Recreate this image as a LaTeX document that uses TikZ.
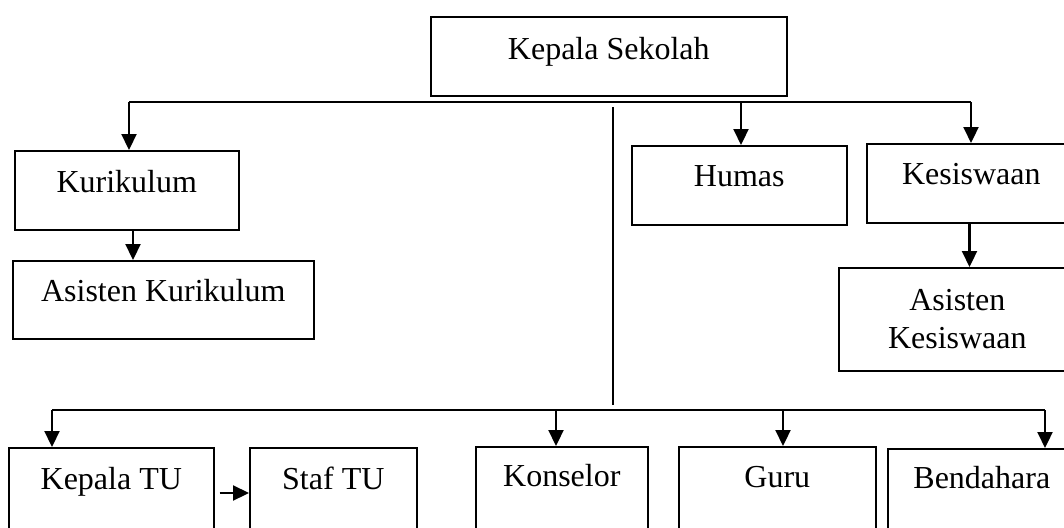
\documentclass[tikz,border=0pt]{standalone}
\usepackage{fontspec}
\setmainfont{Liberation Serif}
\usetikzlibrary{arrows.meta}
\tikzset{
  box/.style={draw, line width=1.6pt, inner sep=0pt, anchor=north west,
    font=\fontsize{32}{38}\selectfont},
  arr/.style={-{Triangle[length=16pt,width=15pt]}, line width=2.2pt},
  bar/.style={line width=1.8pt},
  thinbar/.style={line width=1.2pt},
  lowbar/.style={line width=1.5pt},
}
\begin{document}
\begin{tikzpicture}[x=1pt,y=-1pt]
\useasboundingbox (0,0) rectangle (1064,527);
\clip (0,0) rectangle (1064,527);
% boxes
\node[box, minimum width=356pt, text height=43pt, text depth=36pt] (ks) at (430,16) {Kepala Sekolah};
\node[box, minimum width=224pt, text height=42pt, text depth=37pt] (kur) at (14,150) {Kurikulum};
\node[box, minimum width=301pt, text height=41pt, text depth=37pt] (akur) at (12,260) {Asisten Kurikulum};
\node[box, minimum width=215pt, text height=41pt, text depth=38pt] (humas) at (631,145) {Humas};
\node[box, minimum width=209pt, text height=41pt, text depth=38pt] (kes) at (866,143) {Kesiswaan};
\node[box, minimum width=237pt, minimum height=103pt, align=center] (akes) at (838,267) {Asisten\\Kesiswaan};
\node[box, minimum width=205pt, text height=42pt, text depth=71pt] (ktu) at (8,447) {Kepala TU};
\node[box, minimum width=167pt, text height=42pt, text depth=71pt] (staf) at (249,447) {Staf TU};
\node[box, minimum width=172pt, text height=40pt, text depth=74pt] (kons) at (475,446) {Konselor};
\node[box, minimum width=197pt, text height=41pt, text depth=73pt] (guru) at (678,446) {Guru};
\node[box, minimum width=188pt, text height=40pt, text depth=72pt] (bend) at (887,448) {Bendahara};
% top bar
\coordinate (tl) at (129,102);
\coordinate (tr) at (971,102);
\coordinate (hu) at (741,102);
\draw[bar] (tl) -- (tr);
\draw[arr] (tl) -- (tl |- kur.north);
\draw[arr] (hu) -- (hu |- humas.north);
\draw[arr] (tr) -- (tr |- kes.north);
\coordinate (kx) at (133,0);
\draw[arr] (kur.south -| kx) -- (akur.north -| kx);
\coordinate (ex) at (969.5,0);
\draw[arr] (kes.south -| ex) -- (akes.north -| ex);
% vertical divider
\coordinate (v1) at (613,107);
\coordinate (v2) at (613,405);
\draw[thinbar] (v1) -- (v2);
% bottom bar
\coordinate (bl) at (52,410);
\coordinate (br) at (1045,410);
\coordinate (kn) at (556,410);
\coordinate (gu) at (783,410);
\draw[lowbar] (bl) -- (br);
\draw[arr] (bl) -- (bl |- ktu.north);
\draw[arr] (kn) -- (kn |- kons.north);
\draw[arr] (gu) -- (gu |- guru.north);
\draw[arr] (br) -- (br |- bend.north);
\coordinate (sy) at (0,493);
\draw[arr] ([xshift=5pt]ktu.east |- sy) -- (staf.west |- sy);
\end{tikzpicture}
\end{document}
